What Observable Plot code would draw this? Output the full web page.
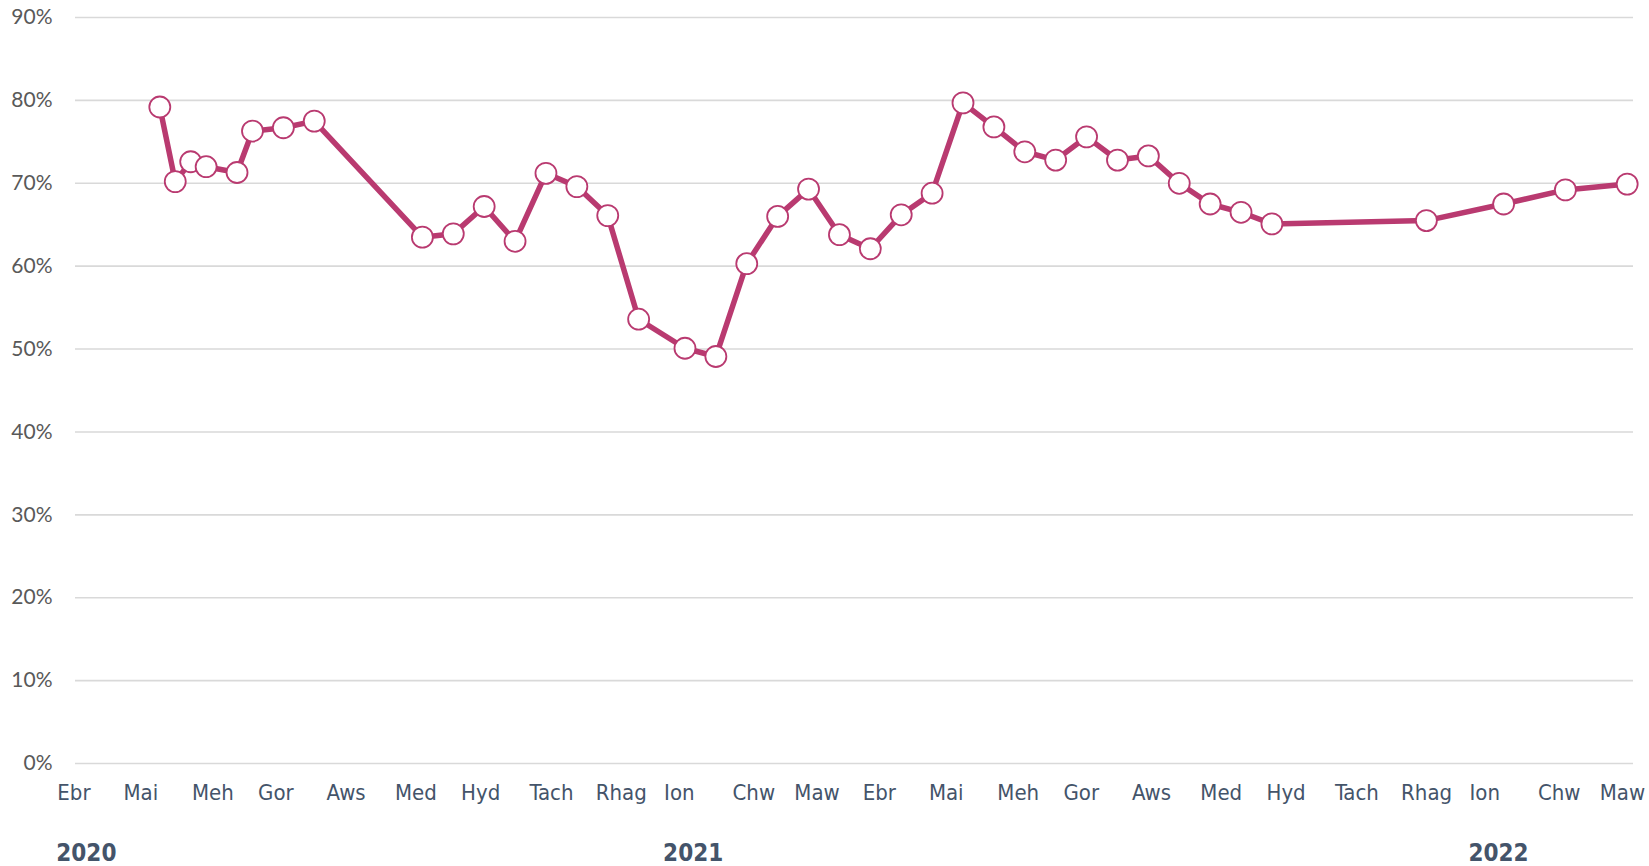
<!DOCTYPE html>
<html>
<head>
<meta charset="utf-8">
<script src="https://cdn.jsdelivr.net/npm/d3@7"></script>
<script src="https://cdn.jsdelivr.net/npm/@observablehq/plot@0.6"></script>
<style>
  html, body { margin: 0; padding: 0; background: #ffffff; }
  #chart svg { display: block; }
</style>
</head>
<body>
<div id="chart"></div>
<script>
// Survey dates (fortnightly, week ending) and share (%)
const dates = [
  "2020-05-17","2020-05-24","2020-05-31","2020-06-07","2020-06-21","2020-06-28","2020-07-12","2020-07-26",
  "2020-09-13","2020-09-27","2020-10-11","2020-10-25","2020-11-08","2020-11-22","2020-12-06","2020-12-20",
  "2021-01-10","2021-01-24","2021-02-07","2021-02-21","2021-03-07","2021-03-21","2021-04-04","2021-04-18",
  "2021-05-02","2021-05-16","2021-05-30","2021-06-13","2021-06-27","2021-07-11","2021-07-25","2021-08-08",
  "2021-08-22","2021-09-05","2021-09-19","2021-10-03","2021-12-12","2022-01-16","2022-02-13","2022-03-13"
];
const values = [
  79.2, 70.2, 72.6, 72.0, 71.3, 76.3, 76.7, 77.5,
  63.5, 63.9, 67.2, 63.0, 71.2, 69.6, 66.1, 53.6,
  50.1, 49.1, 60.3, 66.0, 69.3, 63.8, 62.1, 66.2,
  68.8, 79.7, 76.8, 73.8, 72.8, 75.6, 72.8, 73.3,
  70.0, 67.5, 66.5, 65.1, 65.5, 67.5, 69.2, 69.9
];
const monthNames = ["Ion","Chw","Maw","Ebr","Mai","Meh","Gor","Aws","Med","Hyd","Tach","Rhag"];
const monthTicks = [
  "2020-04-01","2020-05-01","2020-06-01","2020-07-01","2020-08-01","2020-09-01","2020-10-01","2020-11-01","2020-12-01",
  "2021-01-01","2021-02-01","2021-03-01","2021-04-01","2021-05-01","2021-06-01","2021-07-01","2021-08-01","2021-09-01",
  "2021-10-01","2021-11-01","2021-12-01","2022-01-01","2022-02-01","2022-03-01"
];
const yearTicks = ["2020-04-01","2021-01-01","2022-01-01"];
const yTicks = [0, 10, 20, 30, 40, 50, 60, 70, 80, 90];

const data = dates.map((d, i) => ({date: new Date(d), value: values[i]}));

const lineColor = "#B93A70";
const labelColor = "#44546A";
const monthFont = "'DejaVu Sans Condensed', 'DejaVu Sans', sans-serif";

const chart = Plot.plot({
  width: 1649,
  height: 866,
  marginLeft: 75,
  marginRight: 16,
  marginTop: 17,
  marginBottom: 103,
  style: {fontFamily: "Lato, 'Open Sans', sans-serif", background: "#ffffff", overflow: "visible"},
  x: {type: "utc", label: null, domain: [new Date("2020-04-08T19:00:00Z"), new Date("2022-03-15T20:40:00Z")]},
  y: {label: null, domain: [0, 90]},
  marks: [
    Plot.gridY(yTicks, {stroke: "#D9D9D9", strokeOpacity: 1, strokeWidth: 1.6}),
    Plot.axisY(yTicks, {
      label: null, tickSize: 0, tickPadding: 23, tickFormat: d => d + "%",
      fontSize: 21, fill: "#595959", fontFamily: "Lato, 'Open Sans', sans-serif"
    }),
    Plot.axisX(monthTicks.map(d => new Date(d)), {
      label: null, tickSize: 0, tickPadding: 21, textAnchor: "start", dx: -1,
      tickFormat: d => monthNames[d.getUTCMonth()],
      fontSize: 22, fill: labelColor, fontFamily: monthFont
    }),
    Plot.axisX(yearTicks.map(d => new Date(d)), {
      label: null, tickSize: 0, tickPadding: 80, textAnchor: "start", dx: -2,
      tickFormat: d => String(d.getUTCFullYear()),
      fontSize: 24, fontWeight: "bold", fill: labelColor, fontFamily: monthFont
    }),
    Plot.line(data, {x: "date", y: "value", stroke: lineColor, strokeWidth: 5.5, strokeLinejoin: "round", strokeLinecap: "round"}),
    Plot.dot(data, {x: "date", y: "value", r: 10.5, fill: "#ffffff", stroke: lineColor, strokeWidth: 1.8})
  ]
});
document.getElementById("chart").appendChild(chart);
</script>
</body>
</html>
